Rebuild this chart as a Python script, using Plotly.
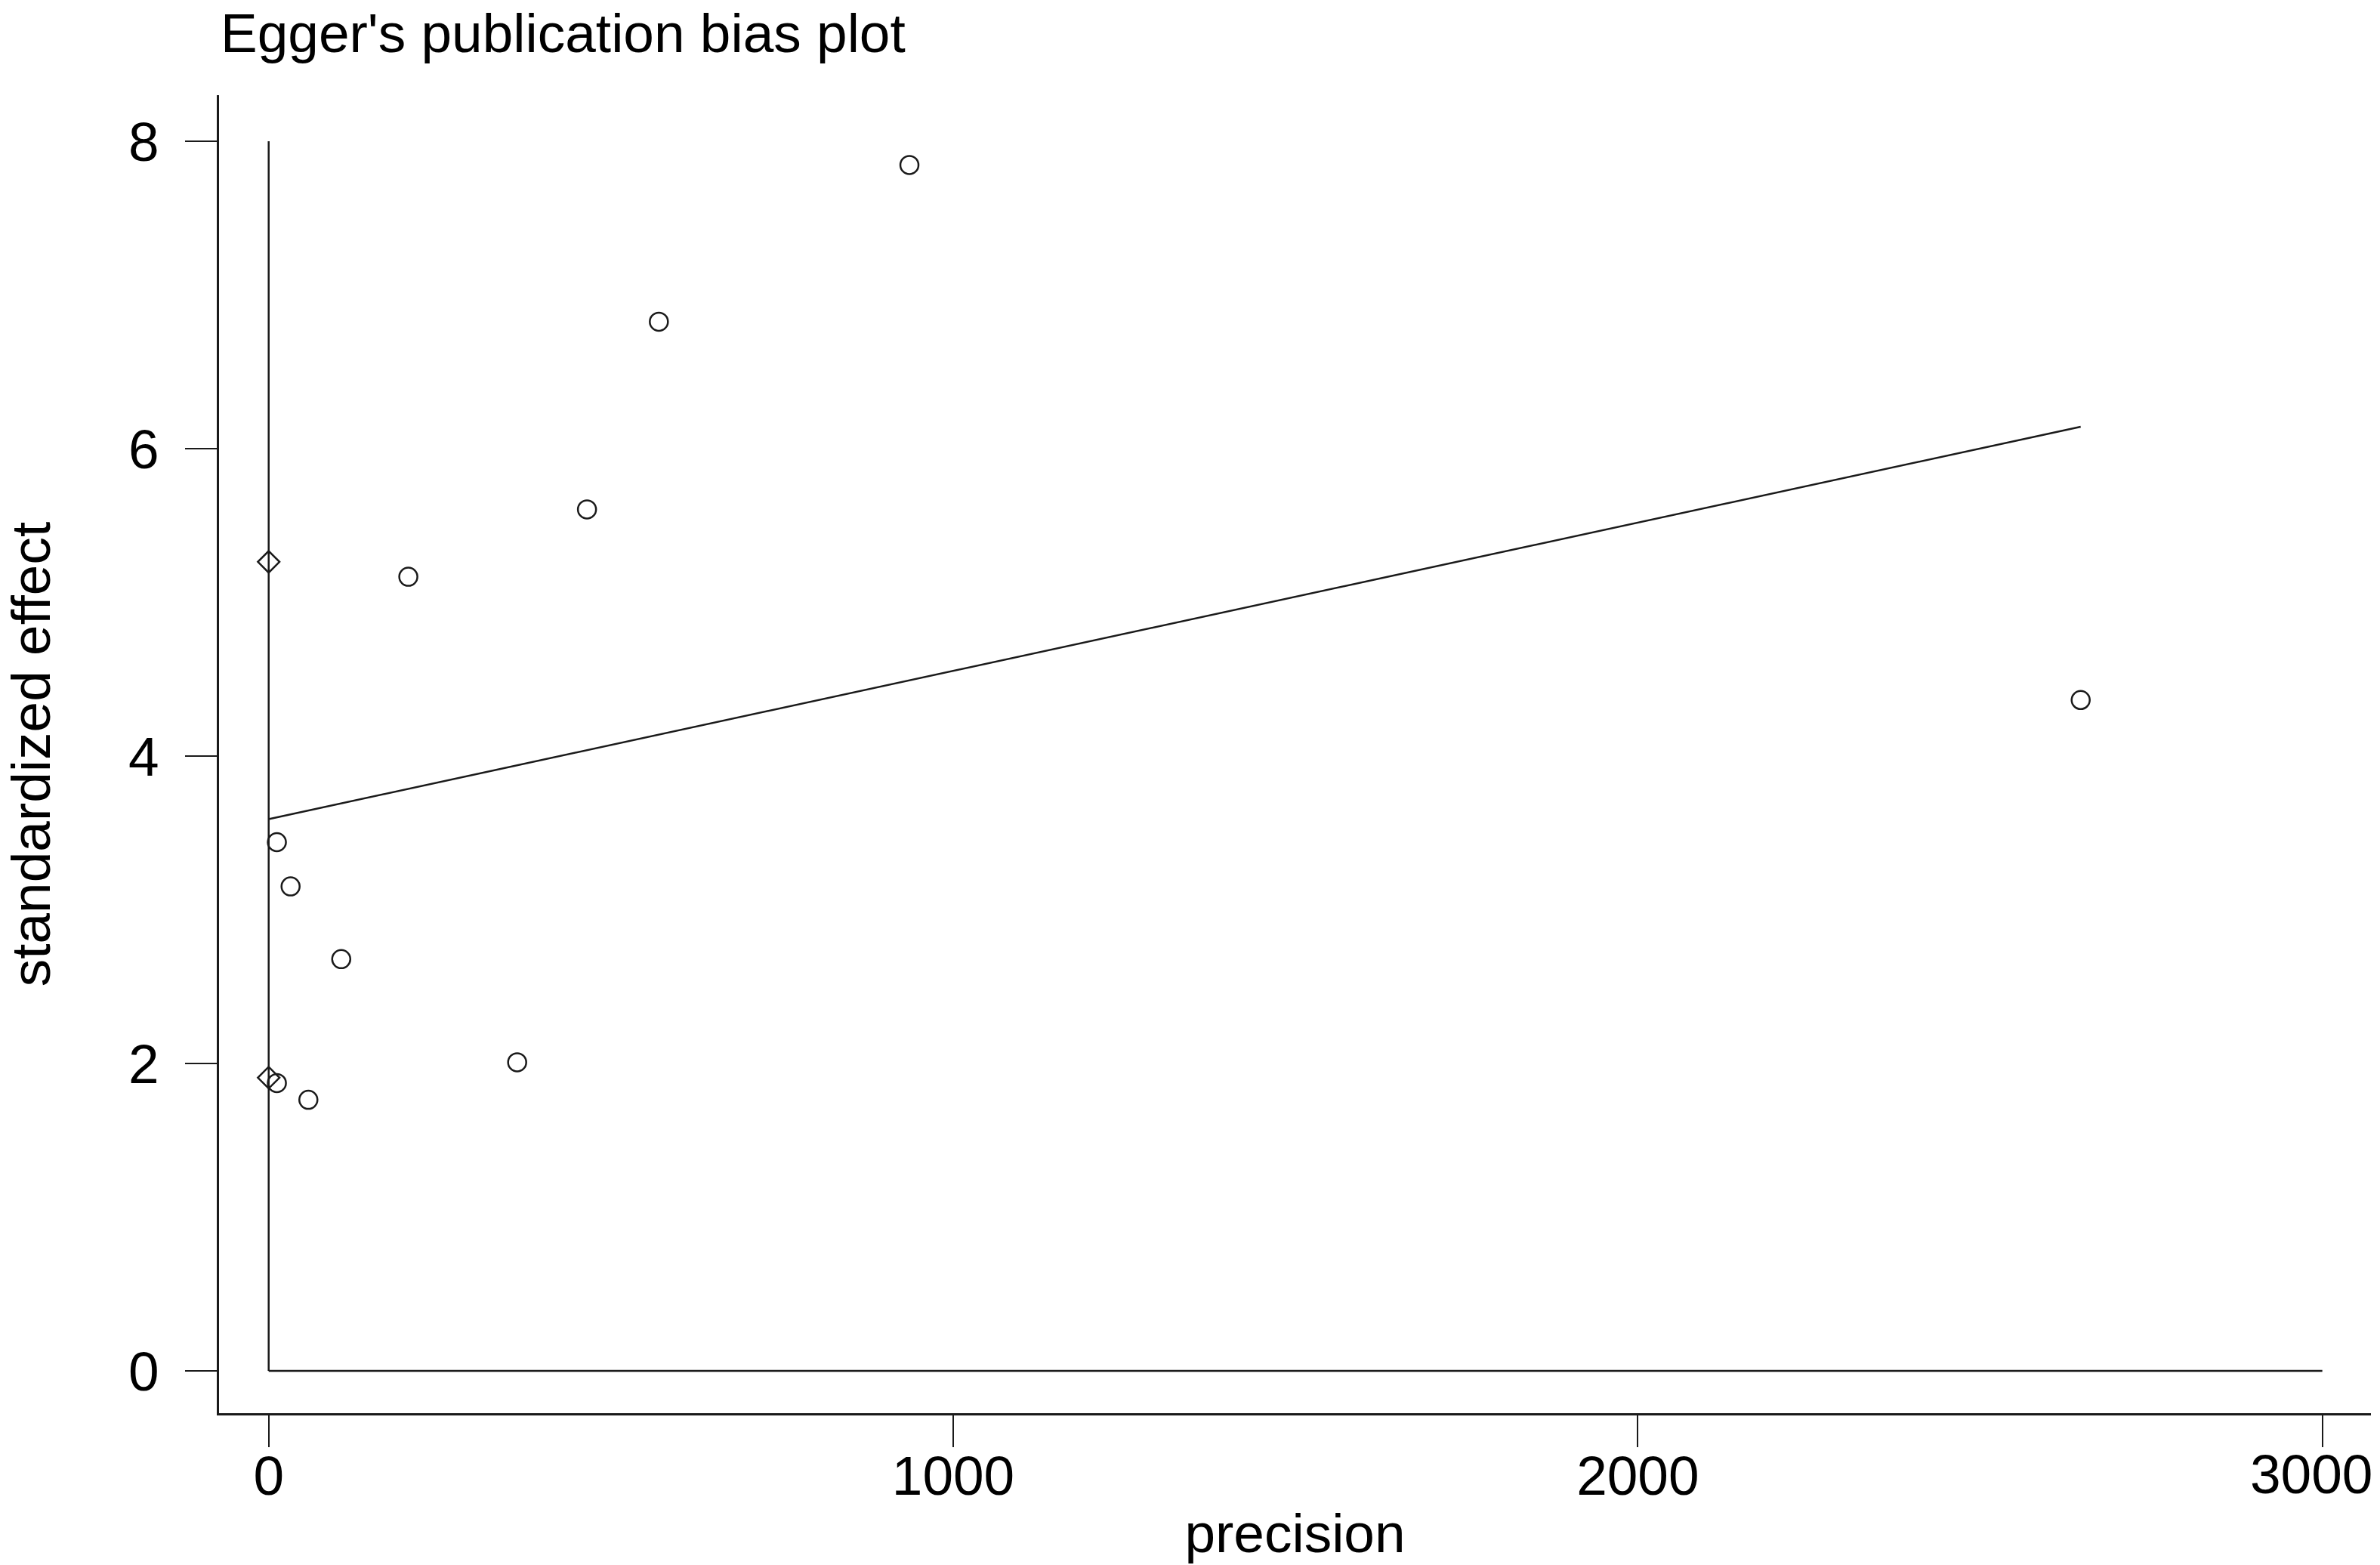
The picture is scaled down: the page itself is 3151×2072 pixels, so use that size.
import plotly.graph_objects as go

# Study points (open circles)
precision = [936, 570, 465, 204, 2647, 12, 32, 106, 363, 12, 58]
std_effect = [7.846, 6.826, 5.605, 5.167, 4.365, 3.44, 3.152, 2.679, 2.008, 1.873, 1.764]

# Points plotted at precision 0 (open diamonds)
diamond_x = [0, 0]
diamond_y = [5.264, 1.908]

# Egger regression line
reg_x = [0, 2647]
reg_y = [3.59, 6.143]

# Reference lines
vref_x = [0, 0]
vref_y = [0, 8]
href_x = [0, 3000]
href_y = [0, 0]

x_ticks = [0, 1000, 2000, 3000]
y_ticks = [0, 2, 4, 6, 8]

FONT = "Liberation Sans, Arial, Helvetica, sans-serif"
INK = "#1a1a1a"

fig = go.Figure()
fig.add_trace(go.Scatter(x=vref_x, y=vref_y, mode="lines",
                         line=dict(color=INK, width=2.5), showlegend=False, hoverinfo="skip"))
fig.add_trace(go.Scatter(x=href_x, y=href_y, mode="lines",
                         line=dict(color=INK, width=2.5), showlegend=False, hoverinfo="skip"))
fig.add_trace(go.Scatter(x=reg_x, y=reg_y, mode="lines",
                         line=dict(color=INK, width=2.5), showlegend=False))
fig.add_trace(go.Scatter(x=precision, y=std_effect, mode="markers",
                         marker=dict(symbol="circle-open", size=24, color=INK,
                                     line=dict(width=2.5, color=INK)),
                         showlegend=False))
fig.add_trace(go.Scatter(x=diamond_x, y=diamond_y, mode="markers",
                         marker=dict(symbol="diamond-open", size=22, color=INK,
                                     line=dict(width=2.5, color=INK)),
                         showlegend=False))

# last x tick label is nudged left (as in the reference) so it stays inside the page
x_ticktext = [str(v) for v in x_ticks[:-1]] + [""]

fig.update_layout(
    width=3151, height=2072,
    margin=dict(l=290, r=12, t=126, b=201),
    paper_bgcolor="white", plot_bgcolor="white",
    font=dict(family=FONT, size=73, color="black"),
    title=dict(text="Egger's publication bias plot", xref="container", yref="container",
               x=292/3151, xanchor="left", y=1 - 43/2072, yanchor="middle",
               font=dict(family=FONT, size=73, color="black")),
    xaxis=dict(range=[-72.5, 3071], tickvals=x_ticks, ticktext=x_ticktext,
               automargin=False,
               showgrid=False, zeroline=False, showline=True, linecolor=INK, linewidth=2.5,
               ticks="outside", ticklen=42, tickwidth=2, tickcolor=INK,
               tickfont=dict(size=73, family=FONT, color="black"),
               ticklabelstandoff=-24,
               title=dict(text="precision", standoff=11, font=dict(size=73, family=FONT))),
    yaxis=dict(range=[-0.275, 8.30], tickvals=y_ticks, ticktext=[str(v) for v in y_ticks],
               automargin=False,
               showgrid=False, zeroline=False, showline=True, linecolor=INK, linewidth=2.5,
               ticks="outside", ticklen=42, tickwidth=2, tickcolor=INK,
               tickfont=dict(size=73, family=FONT, color="black"),
               ticklabelstandoff=20,
               title=dict(text="standardized effect", standoff=98, font=dict(size=73, family=FONT))),
    annotations=[dict(text=str(x_ticks[-1]), x=x_ticks[-1], xref="x", xanchor="center", xshift=-15,
                      y=0, yref="paper", yanchor="top", yshift=-38, showarrow=False,
                      font=dict(size=73, family=FONT, color="black"))],
)

fig.write_html("out.html", config={"displayModeBar": False},
               post_script="document.body.style.margin='0';")
